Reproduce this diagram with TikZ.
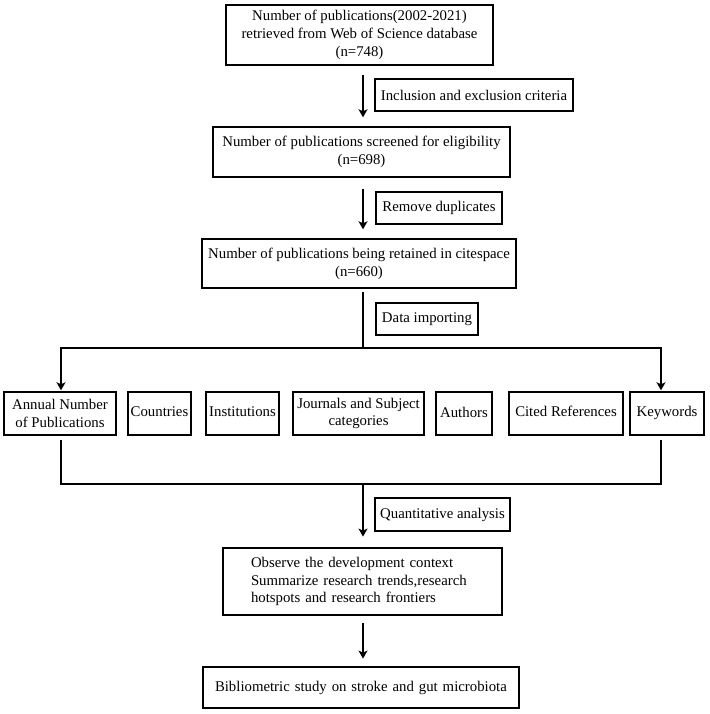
\documentclass[tikz,border=0pt]{standalone}
\usepackage{fontspec}
\setmainfont{Liberation Serif}
\usetikzlibrary{arrows.meta,calc}
\begin{document}
\begin{tikzpicture}[x=1pt,y=-1pt,
  txt/.style={font=\fontsize{14.8}{17.8}\selectfont},
  box/.style={txt,draw,line width=1.4pt,inner sep=0pt,align=center},
  boldbox/.style={txt,draw,line width=2.8pt,inner ysep=0pt,align=left},
  rowbox/.style={box,minimum height=43pt},
  arr/.style={line width=2.5pt,line join=miter,-{Stealth[length=8pt,width=9pt,inset=2pt]}},
  ln/.style={line width=2.5pt,line join=miter},
]
\useasboundingbox (0,0) rectangle (709,714);

% main boxes
\node[box,minimum width=267pt,minimum height=60pt] (b1) at (359.5,35)
  {Number of publications(2002-2021)\\retrieved from Web of Science database\\(n=748)};
\node[box,minimum width=297pt,minimum height=50pt] (b2) at (361.5,152)
  {Number of publications screened for eligibility\\(n=698)};
\node[box,minimum width=314pt,minimum height=49pt] (b3) at (359,263.5)
  {Number of publications being retained in citespace\\(n=660)};

% label boxes
\node[box,minimum width=198pt,minimum height=32pt] (l1) at (474,95) {Inclusion and exclusion criteria};
\node[box,minimum width=126pt,minimum height=32pt] (l2) at (439,208) {Remove duplicates};
\node[box,minimum width=102pt,minimum height=32pt] (l3) at (427,319) {Data importing};
\node[box,minimum width=135pt,minimum height=33pt] (l5) at (442.5,514.5) {Quantitative analysis};

% row of boxes
\node[rowbox,minimum width=112pt] (r1) at (60,413.5) {Annual Number\\of Publications};
\node[rowbox,minimum width=63pt] (r2) at (159.5,413.5) {\raisebox{3pt}{Countries}};
\node[rowbox,minimum width=73pt] (r3) at (242.5,413.5) {\raisebox{4pt}{Institutions}};
\node[rowbox,minimum width=131pt] (r4) at (358.5,413.5) {Journals and Subject\\categories};
\node[rowbox,minimum width=56pt] (r5) at (464,413.5) {\raisebox{3pt}{Authors}};
\node[rowbox,minimum width=114pt] (r6) at (566,413.5) {\raisebox{4pt}{Cited References}};
\node[rowbox,minimum width=74pt] (r7) at (667,413.5) {\raisebox{4pt}{Keywords}};

% bottom boxes
\node[boldbox,text width=223pt,inner xsep=28pt,minimum height=67pt] (b5) at (362.5,581.5)
  {Observe the development context\\Summarize research trends,research\\hotspots and research frontiers};
\node[boldbox,text width=292pt,inner xsep=12pt,minimum height=41pt] (b6) at (361,687.5)
  {Bibliometric study on stroke and gut microbiota};

% helper coordinates
\coordinate (spx) at (363,0);
\coordinate (tl) at (61,348);
\coordinate (tr) at (661,348);
\coordinate (bl) at (61,484);
\coordinate (br) at (661,484);

% connectors
\draw[arr,shorten <=9pt,shorten >=9pt] (b1.south -| spx) -- (b2.north -| spx);
\draw[arr,shorten <=11pt,shorten >=9pt] (b2.south -| spx) -- (b3.north -| spx);
\draw[ln,shorten <=3pt] (b3.south -| spx) -- (spx |- tl);
\draw[arr,shorten >=1pt] (tr) -| (tl |- r1.north);
\draw[arr,shorten >=1pt] (tl) -| (tr |- r7.north);
\draw[ln,shorten <=4pt,shorten >=4pt] (r1.south -| bl) -- (bl) -- (br) -- (r7.south -| br);
\draw[arr,shorten >=10pt] (spx |- bl) -- (b5.north -| spx);
\draw[arr,shorten <=7pt,shorten >=7pt] (b5.south -| spx) -- (b6.north -| spx);
\end{tikzpicture}
\end{document}
